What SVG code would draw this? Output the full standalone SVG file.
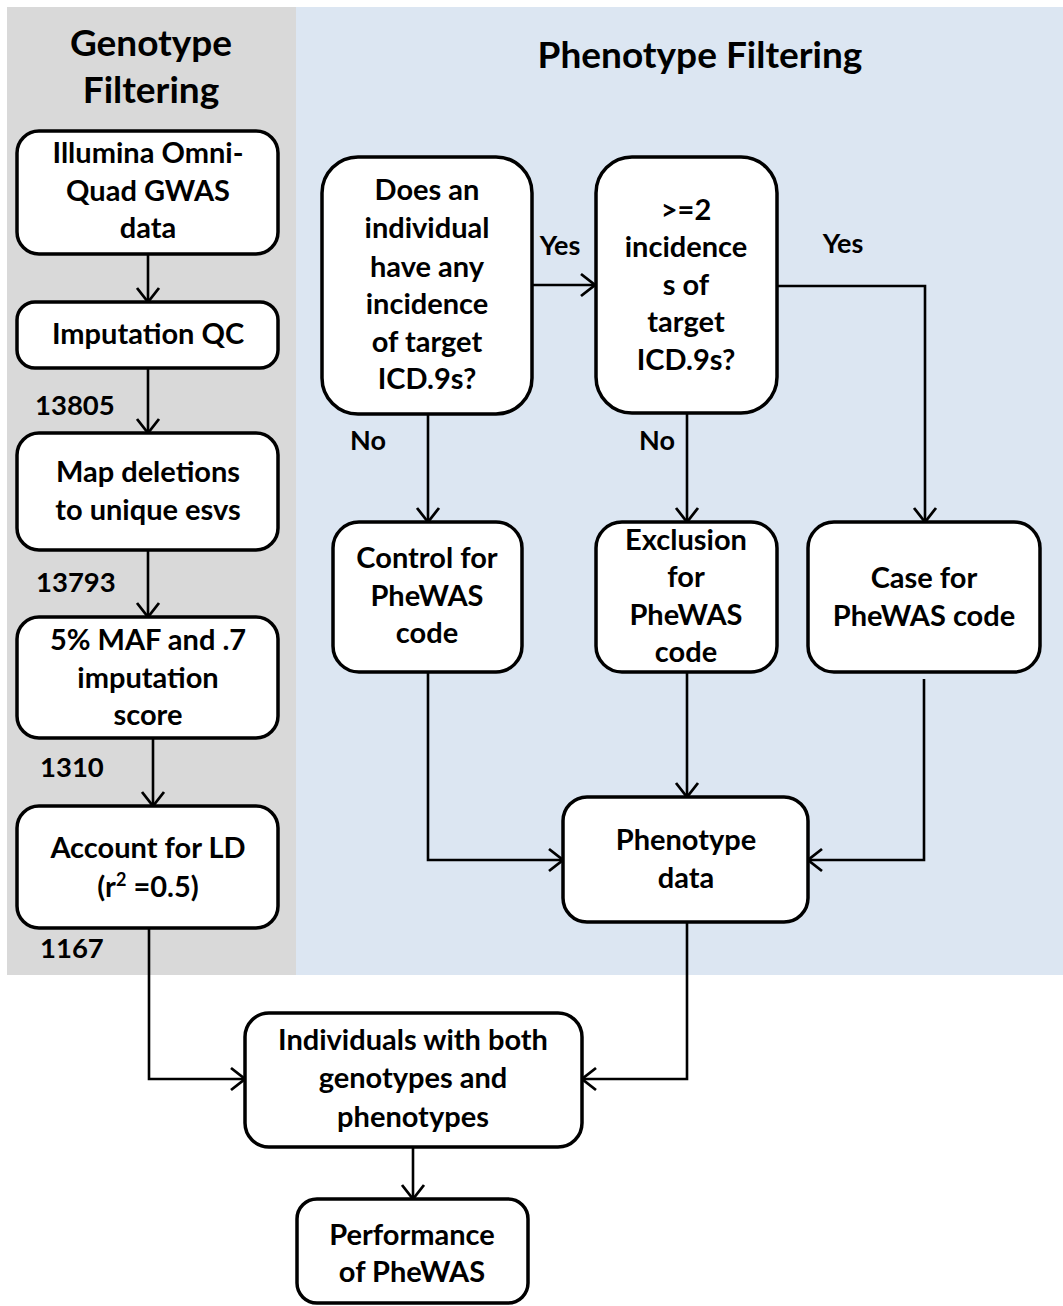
<svg xmlns="http://www.w3.org/2000/svg" width="1063" height="1306" viewBox="0 0 1063 1306">
<style>
  text { font-family: Lato, "Open Sans", "Liberation Sans", sans-serif; font-weight: bold; fill: #000; }
  .t { font-size: 29px; text-anchor: middle; }
  .h { font-size: 37px; text-anchor: middle; }
  .lbl { font-size: 27.5px; }
  .lblc { font-size: 27px; text-anchor: middle; }
  .box { fill: #fff; stroke: #000; stroke-width: 3.5; }
  .edge { fill: none; stroke: #000; stroke-width: 2.6; marker-end: url(#arr); }
</style>
<defs>
  <marker id="arr" markerUnits="userSpaceOnUse" markerWidth="18" markerHeight="26" viewBox="0 0 18 26" refX="16" refY="13" orient="auto">
    <path d="M2,2 L16,13 L2,24" fill="none" stroke="#000" stroke-width="2.8"/>
  </marker>
</defs>
<rect width="1063" height="1306" fill="#fff"/>
<g id="panels">
  <rect x="7" y="7" width="289" height="968" fill="#d9d9d9"/>
  <rect x="296" y="7" width="767" height="968" fill="#dce6f2"/>
  <text class="h" x="151" y="56">Genotype</text>
  <text class="h" x="151" y="103">Filtering</text>
  <text class="h" x="700" y="68">Phenotype Filtering</text>
</g>
<g id="connectors">
  <path class="edge" d="M148,254 V302"/>
  <path class="edge" d="M148,368 V433"/>
  <path class="edge" d="M148,550 V617"/>
  <path class="edge" d="M153,738 V806"/>
  <path class="edge" d="M149,928 V1079 H245"/>
  <path class="edge" d="M532,285 H595"/>
  <path class="edge" d="M428,415 V522"/>
  <path class="edge" d="M687,413 V522"/>
  <path class="edge" d="M777,286 H925 V522"/>
  <path class="edge" d="M428,672 V860 H563"/>
  <path class="edge" d="M687,672 V797"/>
  <path class="edge" d="M924,679 V860 H808"/>
  <path class="edge" d="M687,922 V1079 H582"/>
  <path class="edge" d="M413,1147 V1199"/>
  <text class="lblc" x="560" y="255">Yes</text>
  <text class="lblc" x="843" y="253">Yes</text>
  <text class="lblc" x="368" y="450">No</text>
  <text class="lblc" x="657" y="450">No</text>
  <text class="lbl" x="35" y="415">13805</text>
  <text class="lbl" x="36" y="592">13793</text>
  <text class="lbl" x="40" y="777">1310</text>
  <text class="lbl" x="40" y="958">1167</text>
</g>
<g id="n-illumina">
  <rect class="box" x="17" y="131" width="261" height="123" rx="22"/>
  <text class="t" x="148" y="163">Illumina Omni-</text>
  <text class="t" x="148" y="201">Quad GWAS</text>
  <text class="t" x="148" y="238">data</text>
</g>
<g id="n-imputation">
  <rect class="box" x="17" y="302" width="261" height="66" rx="18"/>
  <text class="t" x="148" y="344">Imputation QC</text>
</g>
<g id="n-map">
  <rect class="box" x="17" y="433" width="261" height="117" rx="22"/>
  <text class="t" x="148" y="482">Map deletions</text>
  <text class="t" x="148" y="520">to unique esvs</text>
</g>
<g id="n-maf">
  <rect class="box" x="17" y="617" width="261" height="121" rx="22"/>
  <text class="t" x="148" y="650">5% MAF and .7</text>
  <text class="t" x="148" y="688">imputation</text>
  <text class="t" x="148" y="725">score</text>
</g>
<g id="n-ld">
  <rect class="box" x="17" y="806" width="261" height="122" rx="22"/>
  <text class="t" x="148" y="858">Account for LD</text>
  <text class="t" x="148" y="897">(r<tspan font-size="18" dy="-11">2</tspan><tspan dy="11"> =0.5)</tspan></text>
</g>
<g id="n-any">
  <rect class="box" x="322" y="157" width="210" height="257" rx="36"/>
  <text class="t" x="427" y="200">Does an</text>
  <text class="t" x="427" y="238">individual</text>
  <text class="t" x="427" y="277">have any</text>
  <text class="t" x="427" y="314">incidence</text>
  <text class="t" x="427" y="352">of target</text>
  <text class="t" x="427" y="389">ICD.9s?</text>
</g>
<g id="n-two">
  <rect class="box" x="596" y="157" width="181" height="256" rx="36"/>
  <text class="t" x="686" y="220">&gt;=2</text>
  <text class="t" x="686" y="257">incidence</text>
  <text class="t" x="686" y="295">s of</text>
  <text class="t" x="686" y="332">target</text>
  <text class="t" x="686" y="370">ICD.9s?</text>
</g>
<g id="n-control">
  <rect class="box" x="333" y="522" width="189" height="150" rx="26"/>
  <text class="t" x="427" y="568">Control for</text>
  <text class="t" x="427" y="606">PheWAS</text>
  <text class="t" x="427" y="643">code</text>
</g>
<g id="n-exclusion">
  <rect class="box" x="596" y="522" width="181" height="150" rx="26"/>
  <text class="t" x="686" y="550">Exclusion</text>
  <text class="t" x="686" y="587">for</text>
  <text class="t" x="686" y="625">PheWAS</text>
  <text class="t" x="686" y="662">code</text>
</g>
<g id="n-case">
  <rect class="box" x="808" y="522" width="232" height="150" rx="26"/>
  <text class="t" x="924" y="588">Case for</text>
  <text class="t" x="924" y="626">PheWAS code</text>
</g>
<g id="n-phenotype">
  <rect class="box" x="563" y="797" width="245" height="125" rx="24"/>
  <text class="t" x="686" y="850">Phenotype</text>
  <text class="t" x="686" y="888">data</text>
</g>
<g id="n-individuals">
  <rect class="box" x="245" y="1013" width="337" height="134" rx="24"/>
  <text class="t" x="413" y="1050">Individuals with both</text>
  <text class="t" x="413" y="1088">genotypes and</text>
  <text class="t" x="413" y="1127">phenotypes</text>
</g>
<g id="n-performance">
  <rect class="box" x="297" y="1199" width="231" height="104" rx="20"/>
  <text class="t" x="412" y="1245">Performance</text>
  <text class="t" x="412" y="1282">of PheWAS</text>
</g>
</svg>
